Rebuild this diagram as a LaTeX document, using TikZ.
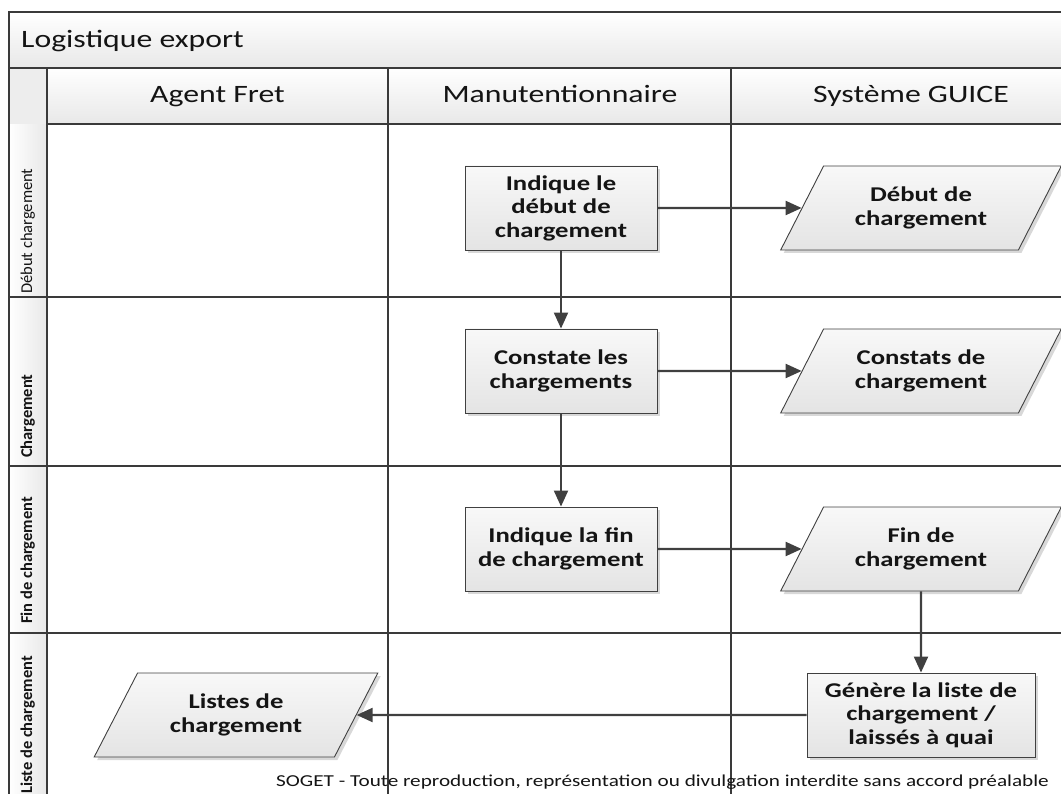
\documentclass[tikz,border=0pt]{standalone}
\usepackage{fontspec}
\setmainfont{Carlito}
\newfontfamily\widefont[FakeStretch=1.27]{Carlito}
\usetikzlibrary{shapes.geometric,arrows.meta,shadows}

\definecolor{edge}{HTML}{404040}
\definecolor{rule}{HTML}{3A3A3A}
\definecolor{bandlo}{HTML}{E8E8E8}
\definecolor{fillhi}{HTML}{F8F8F8}
\definecolor{filllo}{HTML}{E4E4E4}
\definecolor{ink}{HTML}{141414}

\newcommand\titlefont{\widefont\fontsize{25}{30}\selectfont}
\newcommand\stepfont{\widefont\bfseries\fontsize{21}{23.5}\selectfont}
\newcommand\footfont{\widefont\fontsize{16.7}{20}\selectfont}
\newcommand\lanefont{\fontsize{16.5}{19}\selectfont}

\tikzset{
  frame/.style={draw=rule, line width=1.5pt},
  sep/.style={draw=rule, line width=1.2pt},
  shade box/.style={top color=fillhi, bottom color=filllo, draw=edge, line width=0.9pt,
    drop shadow={shadow xshift=3pt, shadow yshift=-3pt, fill=gray!60, opacity=0.5}},
  process/.style={shade box, rectangle, minimum width=192pt, minimum height=84pt,
    align=center, inner sep=2pt, font=\stepfont, text=ink},
  dataio/.style={shade box, trapezium, trapezium left angle=56.8, trapezium right angle=123.2,
    trapezium stretches=true, minimum width=281pt, minimum height=84pt,
    align=center, inner sep=2pt, font=\stepfont, text=ink},
  flow/.style={draw=edge, line width=2.1pt, -{Triangle[length=16pt,width=14pt]}},
  lanelabel/.style={rotate=90, anchor=base west, inner sep=0pt, font=\lanefont, text=ink},
  header/.style={anchor=base, inner sep=0pt, font=\titlefont, text=ink},
}

\begin{document}
\begin{tikzpicture}[x=1pt, y=-1pt]
\useasboundingbox (0,0) rectangle (1061,794);
\begin{scope}
\clip (0,0) rectangle (1061,794);

% title band, column headers and lane label column
\shade[top color=white, bottom color=bandlo] (9,12) rectangle (1100,68);
\shade[top color=white, bottom color=bandlo] (47,68) rectangle (1100,124);
\shade[left color=white, right color=bandlo] (9,68) rectangle (47,810);
\fill[bandlo!80] (9,68) rectangle (47,124);

% pool frame and lane separators
\draw[frame] (9,12) rectangle (1100,810);
\draw[frame] (9,68) -- (1100,68);
\draw[sep] (47,68) -- (47,810);
\draw[sep] (47,124) -- (1100,124);
\draw[sep] (388,68) -- (388,810);
\draw[sep] (731,68) -- (731,810);
\draw[sep] (9,297) -- (1100,297);
\draw[sep] (9,466) -- (1100,466);
\draw[sep] (9,633) -- (1100,633);

% texts of the pool
\node[anchor=base west, inner sep=0pt, font=\titlefont, text=ink] (title) at (21,47.5) {Logistique export};
\node[header] (hagent) at (217.5,102.5) {Agent Fret};
\node[header] (hmanut) at (560,102.5) {Manutentionnaire};
\node[header] (hguice) at (911,102.5) {Système GUICE};

\node[lanelabel] (l1) at (32,294) {Début chargement};
\node[lanelabel] (l2) at (32,458) {\bfseries Chargement};
\node[lanelabel] (l3) at (32,624) {\bfseries Fin de chargement};
\node[lanelabel] (l4) at (32,794) {\bfseries Liste de chargement};

% process steps
\node[process] (b1) at (561,208) {Indique le\\début de\\chargement};
\node[process] (b2) at (561,371) {Constate les\\chargements};
\node[process] (b3) at (561,549) {Indique la fin\\de chargement};
\node[process, minimum width=228pt] (b4) at (921,715) {Génère la liste de\\chargement /\\laissés à quai};

% data
\node[dataio] (p1) at (921,208) {Début de\\chargement};
\node[dataio] (p2) at (921,371) {Constats de\\chargement};
\node[dataio] (p3) at (921,549) {Fin de\\chargement};
\node[dataio, minimum width=284pt] (p4) at (236,715) {Listes de\\chargement};

% flows
\draw[flow] (b1) -- (p1);
\draw[flow] (b1) -- (b2);
\draw[flow] (b2) -- (p2);
\draw[flow] (b2) -- (b3);
\draw[flow] (b3) -- (p3);
\draw[flow] (p3) -- (b4);
\draw[flow] (b4) -- (p4);

% footer notice
\node[anchor=base west, inner sep=0pt, font=\footfont, text=ink] (notice) at (276,786)
  {SOGET - Toute reproduction, représentation ou divulgation interdite sans accord préalable};
\end{scope}
\end{tikzpicture}
\end{document}
